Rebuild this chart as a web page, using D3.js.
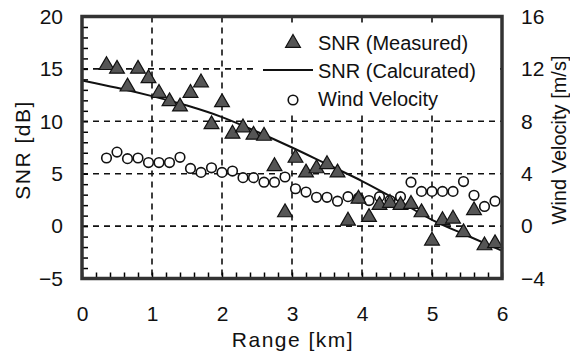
<!DOCTYPE html>
<html>
<head>
<meta charset="utf-8">
<script src="https://cdn.jsdelivr.net/npm/d3@7"></script>
<style>
  body { margin: 0; background: #fff; }
  text { font-family: "Liberation Sans", Arial, sans-serif; fill: #111; }
</style>
</head>
<body>
<div id="canvas"></div>
<script>
// sample ranges [km] for the measured points
var rangeKm = [0.35, 0.5, 0.65, 0.8, 0.95, 1.1, 1.25, 1.4, 1.55, 1.7,
  1.85, 2.0, 2.15, 2.3, 2.45, 2.6, 2.75, 2.9, 3.05, 3.2,
  3.35, 3.5, 3.65, 3.8, 3.95, 4.1, 4.25, 4.4, 4.55, 4.7,
  4.85, 5.0, 5.15, 5.3, 5.45, 5.6, 5.75, 5.9];

var snrMeasured = [15.35, 15.0, 13.3, 15.0, 14.1, 12.7, 11.9, 11.4, 12.7, 13.7,
  9.7, 11.8, 8.8, 9.4, 8.7, 8.6, 5.7, 1.3, 6.5, 5.1,
  5.5, 5.9, 5.1, 0.5, 2.6, 0.85, 2.0, 2.2, 2.0, 2.1,
  1.3, -1.4, 0.55, 0.7, -0.6, 1.5, -1.85, -1.65];

var windVelocity = [5.2, 5.65, 5.15, 5.2, 4.85, 4.85, 4.85, 5.25, 4.4, 4.1,
  4.45, 4.1, 4.2, 3.7, 3.7, 3.35, 3.35, 3.75, 2.85, 2.6,
  2.2, 2.2, 1.9, 2.25, 2.15, 1.95, 2.25, 1.95, 2.25, 3.35,
  2.65, 2.65, 2.65, 2.65, 3.4, 2.35, 1.5, 1.9];

// calculated SNR curve
var calcRange = [0, 0.5, 1, 1.5, 2, 2.5, 3, 3.5, 4, 4.5, 5, 5.5, 6];
var snrCalc = [13.9, 13.2, 12.4, 11.5, 10.4, 9.0, 7.5, 5.9, 4.3, 2.5, 0.6, -0.9, -2.35];

var xTicks = [0, 1, 2, 3, 4, 5, 6];
var snrTicks = [-5, 0, 5, 10, 15, 20];
var windTicks = [-4, 0, 4, 8, 12, 16];
var legendLabels = ["SNR (Measured)", "SNR (Calcurated)", "Wind Velocity"];

function drawChart(){

  var width = 570, height = 352;
  var plot = {left: 82, right: 502, top: 16.5, bottom: 278.5};

  var svg = d3.select("#canvas")
    .append("svg")
    .attr("width", width)
    .attr("height", height);

  var xScale = d3.scaleLinear().domain([0, 6]).range([plot.left, plot.right]);
  var ySnr = d3.scaleLinear().domain([-5, 20]).range([plot.bottom, plot.top]);
  var yWind = d3.scaleLinear().domain([-4, 16]).range([plot.bottom, plot.top]);

  // dashed grid
  var grid = svg.append("g").attr("class", "grid");
  grid.selectAll("line.v")
    .data(xTicks.slice(1, -1))
    .enter().append("line")
    .attr("class", "v")
    .attr("x1", function(d){ return xScale(d); })
    .attr("x2", function(d){ return xScale(d); })
    .attr("y1", plot.top)
    .attr("y2", plot.bottom);
  grid.selectAll("line.h")
    .data(snrTicks.slice(1, -1))
    .enter().append("line")
    .attr("class", "h")
    .attr("x1", plot.left)
    .attr("x2", plot.right)
    .attr("y1", function(d){ return ySnr(d); })
    .attr("y2", function(d){ return ySnr(d); });
  grid.selectAll("line")
    .attr("stroke", "#111")
    .attr("stroke-width", 1.6)
    .attr("stroke-dasharray", "6,5");

  // inner minor ticks
  svg.append("g")
    .attr("transform", "translate(" + plot.left + ",0)")
    .call(d3.axisRight(ySnr).ticks(25).tickSize(6).tickFormat(""))
    .call(function(g){ g.select(".domain").remove(); })
    .selectAll("line").attr("stroke-width", 1.5);
  svg.append("g")
    .attr("transform", "translate(0," + plot.bottom + ")")
    .call(d3.axisTop(xScale).ticks(30).tickSize(6).tickFormat(""))
    .call(function(g){ g.select(".domain").remove(); })
    .selectAll("line").attr("stroke-width", 1.5);

  // tick labels
  var leftAxis = svg.append("g")
    .attr("transform", "translate(" + plot.left + ",0)")
    .call(d3.axisLeft(ySnr).tickValues(snrTicks).tickSize(0).tickPadding(19)
      .tickFormat(function(d){ return d < 0 ? "\u2212" + (-d) : d; }));
  var rightAxis = svg.append("g")
    .attr("transform", "translate(" + plot.right + ",0)")
    .call(d3.axisRight(yWind).tickValues(windTicks).tickSize(0).tickPadding(19)
      .tickFormat(function(d){ return d < 0 ? "\u2212" + (-d) : d; }));
  var bottomAxis = svg.append("g")
    .attr("transform", "translate(0," + plot.bottom + ")")
    .call(d3.axisBottom(xScale).tickValues(xTicks).tickSize(0).tickPadding(28)
      .tickFormat(d3.format("d")));
  [leftAxis, rightAxis, bottomAxis].forEach(function(a){
    a.select(".domain").remove();
    a.selectAll("text").style("font-size", "21px").attr("fill", "#111")
      .style("font-family", "'Liberation Sans', Arial, sans-serif");
  });

  // calculated line
  var valueline = d3.line()
    .x(function(d){ return xScale(d[0]); })
    .y(function(d){ return ySnr(d[1]); })
    .curve(d3.curveMonotoneX);
  svg.append("path")
    .data([d3.zip(calcRange, snrCalc)])
    .attr("fill", "none")
    .attr("stroke", "#111")
    .attr("stroke-width", 2)
    .attr("d", valueline);

  // wind velocity circles
  svg.append("g").selectAll("circle")
    .data(d3.zip(rangeKm, windVelocity))
    .enter().append("circle")
    .attr("cx", function(d){ return xScale(d[0]); })
    .attr("cy", function(d){ return yWind(d[1]); })
    .attr("r", 4.8)
    .attr("fill", "#fff")
    .attr("stroke", "#111")
    .attr("stroke-width", 1.6);

  // measured SNR triangles
  var tri = d3.symbol().type(d3.symbolTriangle).size(95);
  svg.append("g").selectAll("path")
    .data(d3.zip(rangeKm, snrMeasured))
    .enter().append("path")
    .attr("d", tri)
    .attr("transform", function(d){ return "translate(" + xScale(d[0]) + "," + ySnr(d[1]) + ")"; })
    .attr("fill", "#555")
    .attr("stroke", "#111")
    .attr("stroke-width", 1.2);

  // legend box hides the grid behind it
  var legend = svg.append("g");
  legend.append("rect")
    .attr("x", 258).attr("y", 24)
    .attr("width", 240).attr("height", 88)
    .attr("fill", "#fff");
  legend.append("path")
    .attr("d", tri)
    .attr("transform", "translate(293,43)")
    .attr("fill", "#555")
    .attr("stroke", "#111")
    .attr("stroke-width", 1.2);
  legend.append("line")
    .attr("x1", 263).attr("x2", 313)
    .attr("y1", 70).attr("y2", 70)
    .attr("stroke", "#111").attr("stroke-width", 2);
  legend.append("circle")
    .attr("cx", 293).attr("cy", 100).attr("r", 4.8)
    .attr("fill", "#fff").attr("stroke", "#111").attr("stroke-width", 1.6);
  legend.selectAll("text")
    .data(legendLabels)
    .enter().append("text")
    .attr("x", 318)
    .attr("y", function(d, i){ return 43 + i * 28; })
    .attr("dy", "0.36em")
    .style("font-size", "20px")
    .text(function(d){ return d; });

  // frame
  svg.append("rect")
    .attr("x", plot.left).attr("y", plot.top)
    .attr("width", plot.right - plot.left)
    .attr("height", plot.bottom - plot.top)
    .attr("fill", "none")
    .attr("stroke", "#333")
    .attr("stroke-width", 3.5);

  // axis titles
  svg.append("text")
    .attr("transform", "translate(30,150) rotate(-90)")
    .attr("text-anchor", "middle")
    .style("font-size", "21px")
    .style("letter-spacing", "1.5px")
    .text("SNR [dB]");
  svg.append("text")
    .attr("transform", "translate(566,140) rotate(-90)")
    .attr("text-anchor", "middle")
    .style("font-size", "20px")
    .text("Wind Velocity [m/s]");
  svg.append("text")
    .attr("x", 293).attr("y", 347)
    .attr("text-anchor", "middle")
    .style("font-size", "21px")
    .style("letter-spacing", "1.5px")
    .text("Range [km]");
}

drawChart();
</script>
</body>
</html>
